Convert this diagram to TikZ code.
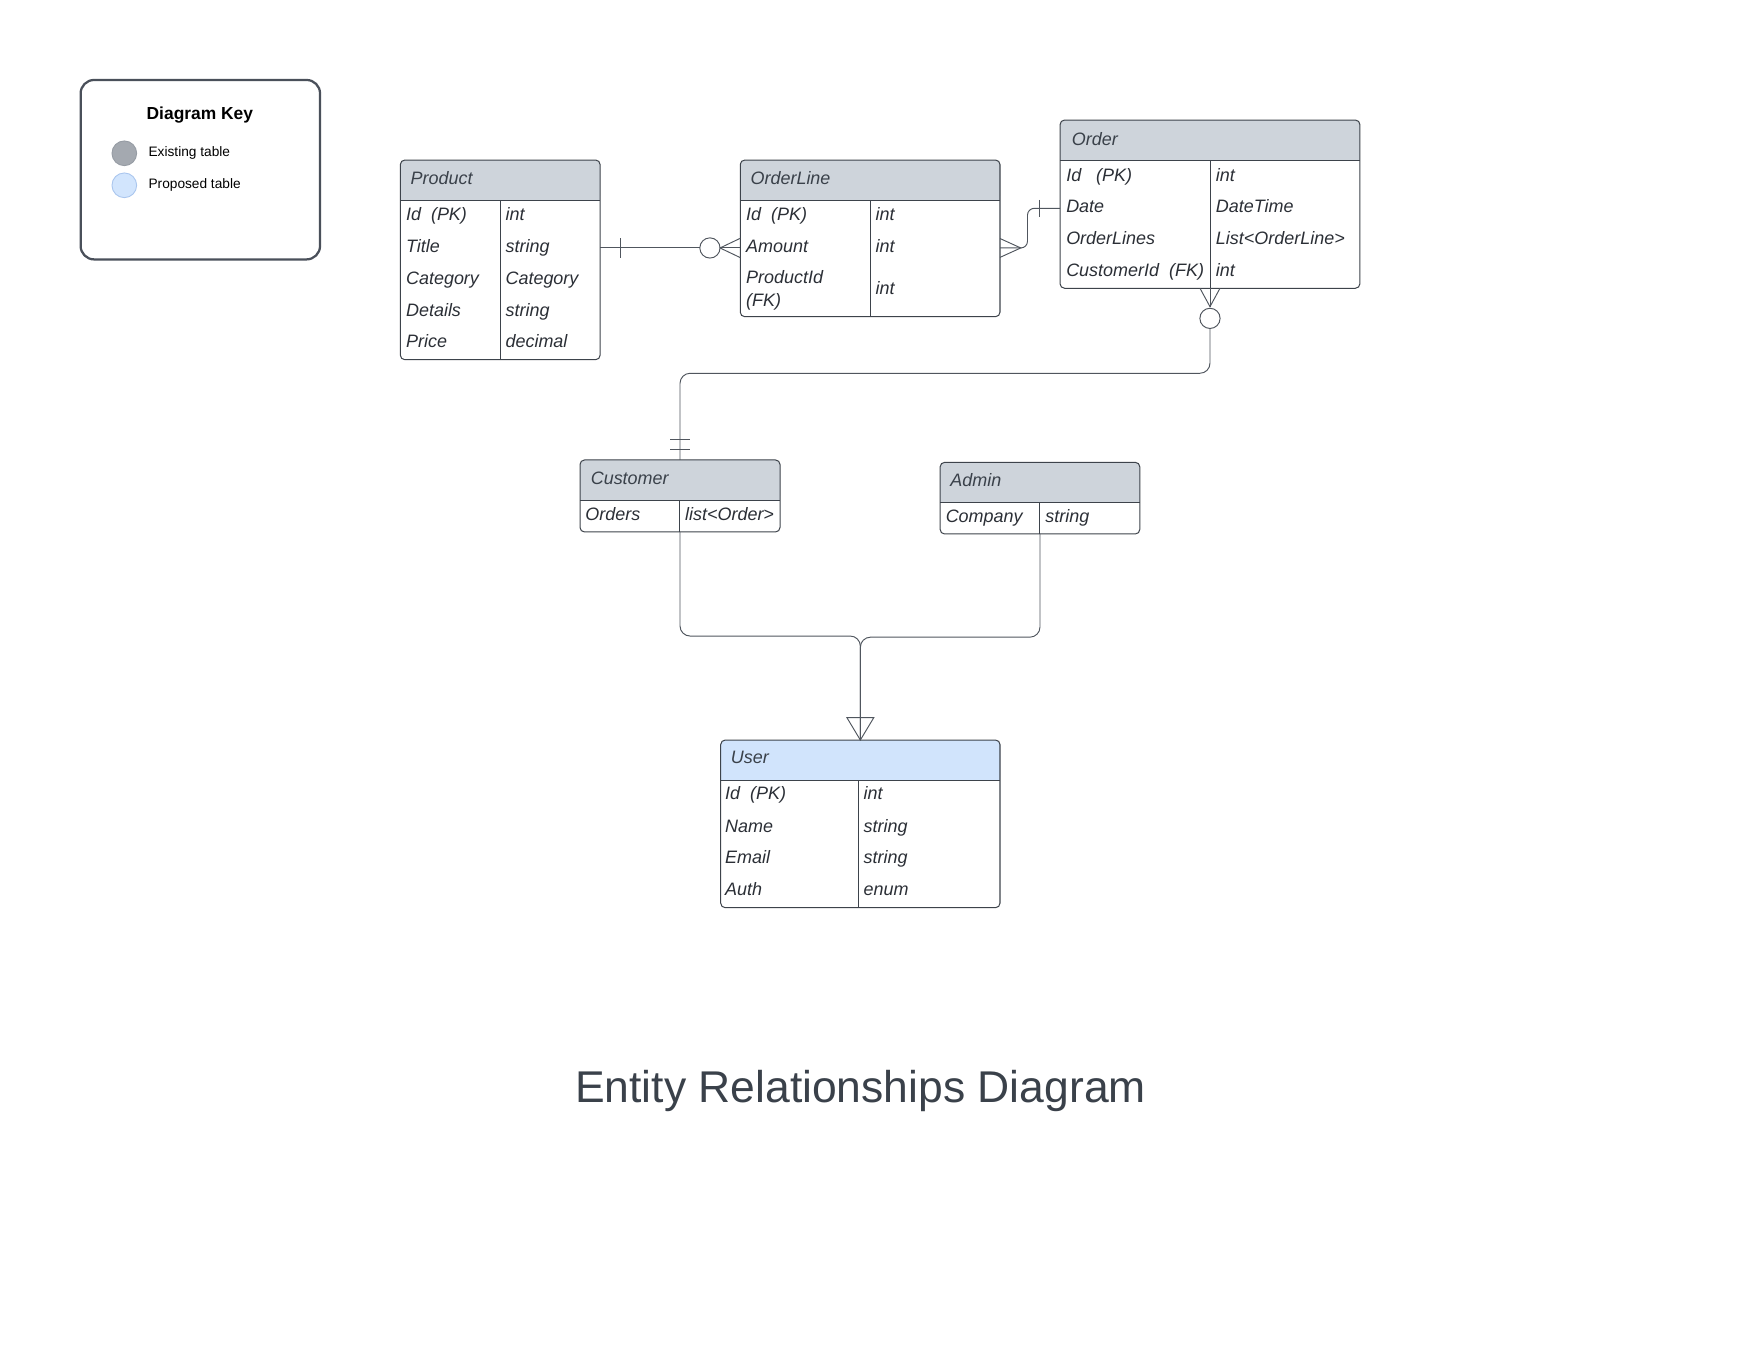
\documentclass[tikz,border=0pt]{standalone}
\usepackage{fontspec}
\setmainfont{Liberation Sans}
\usepackage{tikz}
\usetikzlibrary{backgrounds}
\usetikzlibrary{positioning}
\definecolor{edgegray}{HTML}{3D434B}
\definecolor{linkgray}{HTML}{50565E}
\definecolor{hdfill}{HTML}{CED4DB}
\definecolor{newfill}{HTML}{D1E4FC}
\definecolor{txtgray}{HTML}{2B2F36}
\definecolor{titlegray}{HTML}{3A414A}
\definecolor{keygray}{HTML}{4A505A}
\tikzset{tbl/.style = {draw = edgegray, rounded corners = 4pt, inner sep = 0pt,
                       outer sep = 0pt, line width = 0.9pt},
         edge/.style = {draw = edgegray, line width = 0.9pt},
         fld/.style = {anchor = west, inner sep = 0pt, text height = 11.5pt, text depth = 0pt,
                       font = \fontsize{16}{19}\selectfont\itshape, text = txtgray},
         hdr/.style = {fld, text = titlegray},
         link/.style = {draw = linkgray, line width = 0.85pt},
         zero/.style = {circle, draw = linkgray, fill = white, minimum size = 18pt,
                        inner sep = 0pt, outer sep = 0pt, line width = 0.85pt},
         keytxt/.style = {anchor = west, inner sep = 0pt, text height = 8.7pt, text depth = 0pt,
                          font = \fontsize{12.2}{14}\selectfont},
         keydot/.style = {circle, minimum size = 22pt, inner sep = 0pt, line width = 0.8pt}}

\begin{document}
\begin{tikzpicture}[x = 1pt, y = -1pt]
      \useasboundingbox (0, 0) rectangle (1567.3, 1211.1);

      \node [draw = keygray, line width = 2pt, rounded corners = 12pt, minimum width = 213.2pt,
             minimum height = 159.8pt, inner sep = 0pt] (key) at (178.4, 151.1) {};
      \node [inner sep = 0pt, text height = 11.1pt, text depth = 0pt,
             font = \fontsize{15.5}{18}\selectfont\bfseries] (keytitle) at (178, 101) {Diagram Key};
      \node [keydot, fill = {rgb,255:red,164;green,169;blue,176}, draw = {rgb,255:red,150;green,156;blue,164}] (olddot) at (110.7, 136.5) {};
      \node [keydot, fill = {rgb,255:red,210;green,229;blue,253}, draw = {rgb,255:red,170;green,198;blue,238}] (newdot) at (110.7, 165) {};
      \node [keytxt] (oldtxt) at (132.1, 135.4) {Existing table};
      \node [keytxt] (newtxt) at (132.1, 163.9) {Proposed table};

      \node [tbl, minimum width = 177.9pt, minimum height = 177.8pt] (product) at (445.45, 231.4) {};
      \node [tbl, minimum width = 231.3pt, minimum height = 139.5pt] (orderline) at (774.85, 212.25) {};
      \node [tbl, minimum width = 267pt, minimum height = 149.8pt] (order) at (1077.5, 181.8) {};
      \node [tbl, minimum width = 178.1pt, minimum height = 64.1pt] (customer) at (605.55, 441.65) {};
      \node [tbl, minimum width = 177.8pt, minimum height = 63.8pt] (admin) at (926.1, 443.6) {};
      \node [tbl, minimum width = 248.7pt, minimum height = 149.3pt] (user) at (766.15, 733.65) {};

      \begin{scope}[on background layer]
        \fill [hdfill, rounded corners = 4pt] (product.north west) rectangle ([yshift = -35.6pt]product.north east);
        \fill [hdfill] ([yshift = -18pt]product.north west) rectangle ([yshift = -35.6pt]product.north east);
        \fill [hdfill, rounded corners = 4pt] (orderline.north west) rectangle ([yshift = -35.6pt]orderline.north east);
        \fill [hdfill] ([yshift = -18pt]orderline.north west) rectangle ([yshift = -35.6pt]orderline.north east);
        \fill [hdfill, rounded corners = 4pt] (order.north west) rectangle ([yshift = -36.2pt]order.north east);
        \fill [hdfill] ([yshift = -18pt]order.north west) rectangle ([yshift = -36.2pt]order.north east);
        \fill [hdfill, rounded corners = 4pt] (customer.north west) rectangle ([yshift = -35.7pt]customer.north east);
        \fill [hdfill] ([yshift = -18pt]customer.north west) rectangle ([yshift = -35.7pt]customer.north east);
        \fill [hdfill, rounded corners = 4pt] (admin.north west) rectangle ([yshift = -35.6pt]admin.north east);
        \fill [hdfill] ([yshift = -18pt]admin.north west) rectangle ([yshift = -35.6pt]admin.north east);
        \fill [newfill, rounded corners = 4pt] (user.north west) rectangle ([yshift = -36.2pt]user.north east);
        \fill [newfill] ([yshift = -18pt]user.north west) rectangle ([yshift = -36.2pt]user.north east);
      \end{scope}

      \draw [edge] ([yshift = -35.6pt]product.north west) -- ([yshift = -35.6pt]product.north east);
      \draw [edge] (445.4, 178.1) -- (445.4, 320.3);
      \draw [edge] ([yshift = -35.6pt]orderline.north west) -- ([yshift = -35.6pt]orderline.north east);
      \draw [edge] (775.5, 178.1) -- (775.5, 282);
      \draw [edge] ([yshift = -36.2pt]order.north west) -- ([yshift = -36.2pt]order.north east);
      \draw [edge] (1078.1, 143.1) -- (1078.1, 256.7);
      \draw [edge] ([yshift = -35.7pt]customer.north west) -- ([yshift = -35.7pt]customer.north east);
      \draw [edge] (605.5, 445.3) -- (605.5, 473.7);
      \draw [edge] ([yshift = -35.6pt]admin.north west) -- ([yshift = -35.6pt]admin.north east);
      \draw [edge] (926, 447.3) -- (926, 475.5);
      \draw [edge] ([yshift = -36.2pt]user.north west) -- ([yshift = -36.2pt]user.north east);
      \draw [edge] (764.4, 695.2) -- (764.4, 808.3);

      \node [hdr] (producthdr) at (365.5, 158.8) {Product};
      \node [fld] (productid) at (361.4, 190.3) {Id\ \ (PK)};
      \node [fld] (producttitle) at (361.4, 218.8) {Title};
      \node [fld] (productcat) at (361.4, 247.3) {Category};
      \node [fld] (productdet) at (361.4, 275.7) {Details};
      \node [fld] (productprice) at (361.4, 304.1) {Price};
      \node [fld] (productidt) at (450, 190.3) {int};
      \node [fld] (producttitlet) at (450, 218.8) {string};
      \node [fld] (productcatt) at (450, 247.3) {Category};
      \node [fld] (productdett) at (450, 275.7) {string};
      \node [fld] (productpricet) at (450, 304.1) {decimal};

      \node [hdr] (orderlinehdr) at (668.2, 158.8) {OrderLine};
      \node [fld] (orderlineid) at (664.2, 190.3) {Id\ \ (PK)};
      \node [fld] (orderlineamt) at (664.2, 218.8) {Amount};
      \node [fld] (orderlinepid) at (664.2, 246.7) {ProductId};
      \node [fld] (orderlinefk) at (664.2, 266.9) {(FK)};
      \node [fld] (orderlineidt) at (779.5, 190.3) {int};
      \node [fld] (orderlineamtt) at (779.5, 218.8) {int};
      \node [fld] (orderlinepidt) at (779.5, 256.8) {int};

      \node [hdr] (orderhdr) at (954.3, 124) {Order};
      \node [fld] (orderid) at (949.3, 156) {Id\ \ \ (PK)};
      \node [fld] (orderdate) at (949.3, 183.4) {Date};
      \node [fld] (orderlines) at (949.3, 212.2) {OrderLines};
      \node [fld] (ordercid) at (949.3, 240.4) {CustomerId\ \ (FK)};
      \node [fld] (orderidt) at (1082.6, 156) {int};
      \node [fld] (orderdatet) at (1082.6, 183.4) {DateTime};
      \node [fld] (orderlinest) at (1082.6, 212.2) {List<OrderLine>};
      \node [fld] (ordercidt) at (1082.6, 240.4) {int};

      \node [hdr] (customerhdr) at (525.9, 425.4) {Customer};
      \node [fld] (customerord) at (521.1, 457.7) {Orders};
      \node [fld] (customerordt) at (609.9, 457.7) {list<Order>};

      \node [hdr] (adminhdr) at (846.2, 427.4) {Admin};
      \node [fld] (admincomp) at (842, 459.5) {Company};
      \node [fld] (admincompt) at (930.8, 459.5) {string};

      \node [hdr] (userhdr) at (650.7, 674.4) {User};
      \node [fld] (userid) at (645.6, 706.6) {Id\ \ (PK)};
      \node [fld] (username) at (645.6, 735.3) {Name};
      \node [fld] (useremail) at (645.6, 763.6) {Email};
      \node [fld] (userauth) at (645.6, 791.9) {Auth};
      \node [fld] (useridt) at (768.8, 706.6) {int};
      \node [fld] (usernamet) at (768.8, 735.3) {string};
      \node [fld] (useremailt) at (768.8, 763.6) {string};
      \node [fld] (userautht) at (768.8, 791.9) {enum};

      \node [zero] (linezero) at (632.2, 220.8) {};
      \coordinate (prodbar) at ([xshift = 18pt]product.east |- linezero);
      \coordinate (linein) at (orderline.west |- linezero);
      \draw [link] (product.east |- linezero) -- (linezero.west);
      \draw [link] ([yshift = 8.6pt]prodbar) -- ([yshift = -8.6pt]prodbar);
      \draw [link] (linezero.east) -- (linein);
      \draw [link] ([yshift = 8.6pt]linein) -- (linezero.east) -- ([yshift = -8.6pt]linein);

      \coordinate (lineout) at (orderline.east |- linezero);
      \coordinate (lineapex) at ([xshift = 18.5pt]lineout);
      \coordinate (orderin) at (order.west |- 0, 185.5);
      \draw [link] ([yshift = 8.4pt]lineout) -- (lineapex) -- ([yshift = -8.4pt]lineout);
      \draw [link, rounded corners = 6pt] (lineout) -| ([xshift = -29pt]orderin) -- (orderin);
      \draw [link] ([xshift = -18.5pt, yshift = 7.5pt]orderin) -- ([xshift = -18.5pt, yshift = -7.5pt]orderin);

      \node [zero] (orderzero) at ([yshift = -26.8pt]order.south) {};
      \coordinate (custbar) at ([yshift = 9.5pt]customer.north);
      \draw [link] ([xshift = -8.9pt]order.south) -- ([yshift = -16.4pt]order.south) -- ([xshift = 8.9pt]order.south);
      \draw [link] (order.south) -- ([yshift = -16.4pt]order.south);
      \draw [link, rounded corners = 9pt] (orderzero.south) |- ([yshift = 77.2pt]customer.north) -- (customer.north);
      \draw [link] ([xshift = -8.9pt]custbar) -- ([xshift = 8.9pt]custbar);
      \draw [link] ([xshift = -8.9pt, yshift = 8.9pt]custbar) -- ([xshift = 8.9pt, yshift = 8.9pt]custbar);

      \draw [link, rounded corners = 9pt] (customer.south) |- ([yshift = 92.6pt]user.north) -- (user.north);
      \draw [link, rounded corners = 9pt] (admin.south) |- ([yshift = 91.6pt]user.north) -- (user.north);
      \draw [link] (user.north) -- ([xshift = -12pt, yshift = 20pt]user.north)
                   -- ([xshift = 12pt, yshift = 20pt]user.north) -- cycle;

      \node [inner sep = 0pt, text height = 28.4pt, text depth = 0pt, text = titlegray,
             font = \fontsize{39.6}{46}\selectfont] (title) at (766.3, 967.7) {Entity Relationships Diagram};
    \end{tikzpicture}
\end{document}
